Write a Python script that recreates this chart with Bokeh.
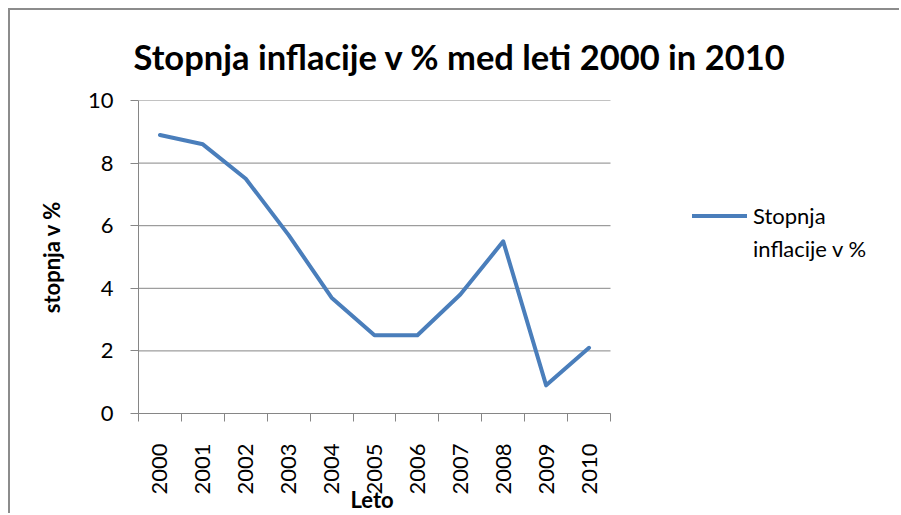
from bokeh.plotting import figure
from bokeh.models import FixedTicker, Legend, LegendItem, Range1d, ColumnDataSource, Title
from bokeh.embed import file_html
from bokeh.resources import INLINE

years = ["2000", "2001", "2002", "2003", "2004", "2005", "2006", "2007", "2008", "2009", "2010"]
inflation = [8.9, 8.6, 7.5, 5.7, 3.7, 2.5, 2.5, 3.8, 5.5, 0.9, 2.1]
y_ticks = [0, 2, 4, 6, 8, 10]
legend_lines = ["Stopnja", "inflacije v %"]

n = len(years)
x_pos = [i + 0.5 for i in range(n)]
src = ColumnDataSource(dict(x=x_pos, y=inflation, year=years))
grid_src = ColumnDataSource(dict(x0=[0] * len(y_ticks), x1=[n] * len(y_ticks), y=y_ticks))

FONT = "Lato"
GRAY = "#868686"

# layout (pixels)
W, H = 891, 505
LEFT, TOP, BOTTOM = 128, 87, 102
PLOT_W = 472          # width of the plotting area that holds the categories
FRAME_W = W - LEFT    # frame extends to the right edge so the legend fits inside it
x_end = n * FRAME_W / PLOT_W

p = figure(width=W, height=H, output_backend="svg", toolbar_location=None,
           x_range=Range1d(0, x_end), y_range=Range1d(0, 10),
           min_border_left=LEFT, min_border_right=0, min_border_top=TOP, min_border_bottom=BOTTOM,
           background_fill_color="white", border_fill_color="white")
p.styles = {"margin-left": "8px", "margin-top": "8px",
            "border-left": "2px solid #8c8c8c", "border-top": "2px solid #8c8c8c"}
p.outline_line_color = None

p.title.text = "Stopnja inflacije v % med leti 2000 in 2010"
p.title.text_font = FONT
p.title.text_font_size = "34.5px"
p.title.text_font_style = "bold"
p.title.text_color = "black"
p.title.align = "left"
p.title.offset = -5
p.title.standoff = 47

# horizontal gridlines limited to the category area
p.segment(x0="x0", x1="x1", y0="y", y1="y", source=grid_src, line_color=GRAY, line_width=1)

r = p.line("x", "y", source=src, line_color="#4a7ebb", line_width=4,
           line_join="round", line_cap="round")
# invisible companion so the legend's second text line has no glyph
r2 = p.line("x", "y", source=src, line_alpha=0)

# x axis
p.xaxis.bounds = (0, n)
p.xaxis.ticker = FixedTicker(ticks=x_pos, minor_ticks=list(range(n + 1)))
p.xaxis.major_label_overrides = {x: y for x, y in zip(x_pos, years)}
p.xaxis.major_label_orientation = 1.5707963
p.xaxis.major_tick_out = 0
p.xaxis.major_tick_in = 0
p.xaxis.minor_tick_out = 8
p.xaxis.minor_tick_in = 0
p.xaxis.major_label_standoff = 22

# x axis title, centred under the category area
x_title = Title(text="Leto", align="left", offset=212, standoff=-30,
                text_font=FONT, text_font_size="22px", text_font_style="bold",
                text_color="black")
p.add_layout(x_title, "below")

# y axis
p.yaxis.ticker = FixedTicker(ticks=y_ticks, minor_ticks=[])
p.yaxis.major_tick_out = 8
p.yaxis.major_tick_in = 0
p.yaxis.minor_tick_out = 0
p.yaxis.minor_tick_in = 0
p.yaxis.major_label_standoff = 17
p.yaxis.axis_label = "stopnja v %"
p.yaxis.axis_label_standoff = 20

for ax in (p.xaxis, p.yaxis):
    ax.axis_line_color = GRAY
    ax.major_tick_line_color = GRAY
    ax.minor_tick_line_color = GRAY
    ax.major_label_text_font = FONT
    ax.major_label_text_font_size = "22px"
    ax.major_label_text_color = "black"
    ax.axis_label_text_font = FONT
    ax.axis_label_text_font_style = "bold"
    ax.axis_label_text_color = "black"
p.yaxis.axis_label_text_font_size = "22px"

p.xgrid.grid_line_color = None
p.ygrid.grid_line_color = None

legend = Legend(items=[LegendItem(label=legend_lines[0], renderers=[r]),
                       LegendItem(label=legend_lines[1], renderers=[r2])],
                location=(554, 148), padding=0, margin=0, spacing=0, border_line_color=None,
                background_fill_alpha=0, glyph_width=55, glyph_height=33, label_height=33,
                label_standoff=6,
                label_text_font=FONT, label_text_font_size="22px", label_text_color="black")
p.add_layout(legend, "center")

open("out.html", "w").write(file_html(p, INLINE))
